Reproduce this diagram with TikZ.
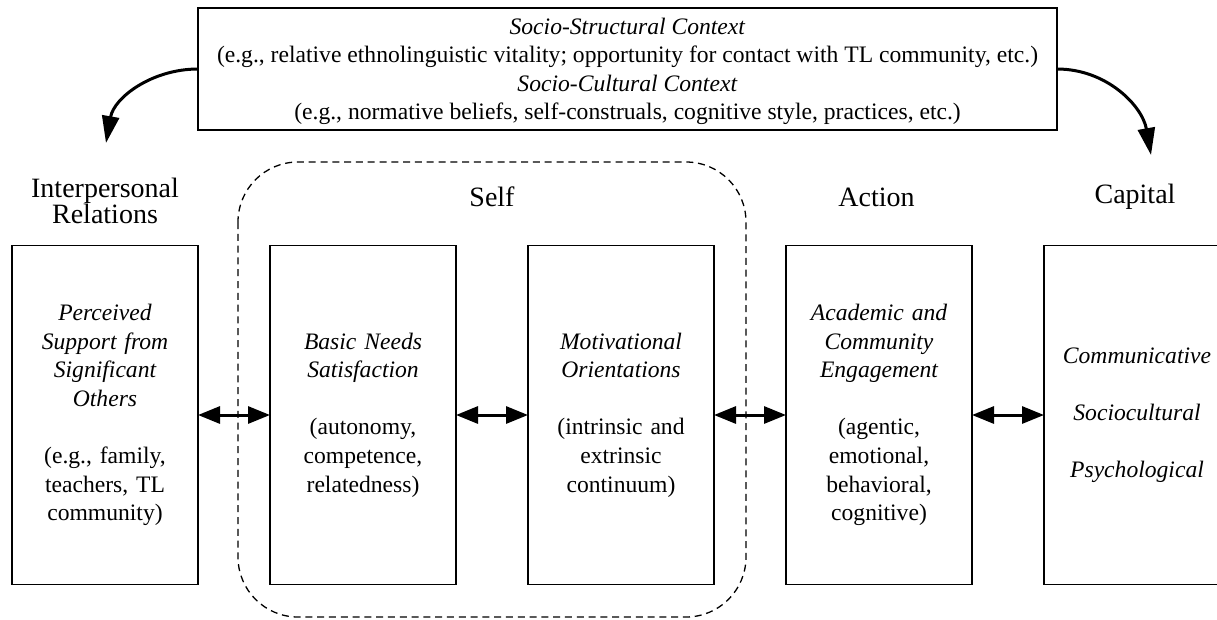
\documentclass[tikz,border=0pt]{standalone}
\usepackage{fontspec}
\setmainfont{Liberation Serif}
\usetikzlibrary{arrows.meta,positioning}

\begin{document}
\begin{tikzpicture}[x=1pt,y=1pt,node distance=72pt,
                    >={Triangle[length=22pt,width=17pt]}]
  \tikzset{box/.style={draw,line width=1.6pt,minimum width=186pt,minimum height=339pt,
             text width=180pt,align=center,inner sep=0pt,outer sep=0pt,
             font=\fontsize{23.6}{28.6}\selectfont},
           head/.style={align=center,inner sep=0pt,font=\fontsize{28}{23}\selectfont},
           link/.style={<->,line width=3pt},
           feed/.style={->,line width=3pt,>={Triangle[length=27pt,width=17pt]}},
           selfbox/.style={dash pattern=on 7pt off 4.8pt,line width=1.3pt,rounded corners=60pt}}

  \useasboundingbox (0,0) rectangle (1217,-619);

  % context box on top
  \node[draw,line width=1.6pt,minimum width=859pt,minimum height=122pt,inner sep=0pt,
        outer sep=0pt,align=center,text depth=0pt,font=\fontsize{23.6}{28.5}\selectfont]
        (ctx) at (627.5,-69) {\textit{Socio-Structural Context}\\
        (e.g., relative ethnolinguistic vitality; opportunity for contact with TL community, etc.)\\
        \textit{Socio-Cultural Context}\\
        (e.g., normative beliefs, self-construals, cognitive style, practices, etc.)};

  % self frame
  \draw[selfbox] (238,-162) rectangle (746,-617);

  \node[box]   (rel)   at (105,-415) {{\itshape Perceived\\ Support from\\ Significant\\ Others}\\[28.6pt]
                                      (e.g., family,\\ teachers, TL\\ community)};
  \node[box]   (needs) [right=of rel]   {{\itshape Basic Needs\\ Satisfaction}\\[28.6pt]
                                         (autonomy,\\ competence,\\ relatedness)};
  \node[box]   (motiv) [right=of needs] {{\itshape Motivational\\ Orientations}\\[28.6pt]
                                         (intrinsic and\\ extrinsic\\ continuum)};
  \node[box]   (act)   [right=of motiv] {{\itshape Academic and\\ Community\\ Engagement}\\[28.6pt]
                                         (agentic,\\ emotional,\\ behavioral,\\ cognitive)};
  \node[box]   (cap)   [right=of act]   {{\itshape Communicative\\[28.6pt] Sociocultural\\[28.6pt] Psychological}};

  % headings
  \node[head,anchor=base] (relhd)  at (105,-223)   {Interpersonal\\[-1pt] Relations};
  \node[head,anchor=base] (selfhd) at (492,-206)   {Self};
  \node[head,anchor=base] (acthd)  at (876.5,-206) {Action};
  \node[head,anchor=base] (caphd)  at (1135,-203)  {Capital};

  \coordinate (reltip) at (106,-143);
  \coordinate (captip) at (1151,-155);

  \draw[feed] (ctx.west) to[out=180,in=80]  (reltip);
  \draw[feed] (ctx.east) to[out=0,in=100]   (captip);

  \path[link] (rel)   edge (needs)
              (needs) edge (motiv)
              (motiv) edge (act)
              (act)   edge (cap)
  ; %end path

\end{tikzpicture}
\end{document}
